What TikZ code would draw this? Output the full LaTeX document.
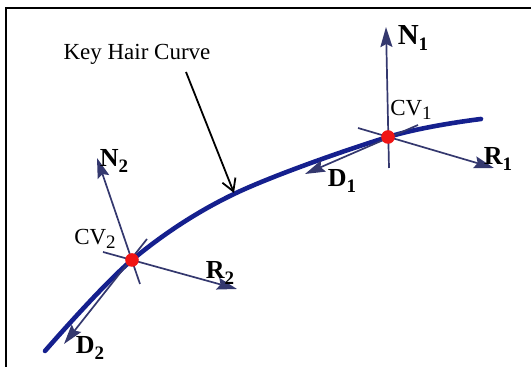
\documentclass[tikz,border=0pt]{standalone}
\usepackage{fontspec}
\setmainfont{Liberation Serif}
\usetikzlibrary{arrows.meta, positioning}
\definecolor{hair}{HTML}{15208E}
\definecolor{axisc}{HTML}{34386E}
\definecolor{cvred}{HTML}{F01414}
\newcommand{\lowidx}[1]{\raisebox{-0.45ex}{\fontsize{9.5}{10}\selectfont #1}}
\tikzset{
  frame/.style={draw=black, line width=1pt},
  hairline/.style={draw=hair, line width=2.3pt, line cap=round},
  vec/.style={draw=axisc, line width=0.85pt,
              -{Stealth[length=10pt, width=6pt, inset=1.5pt]}},
  cvdot/.style={circle, fill=cvred, inner sep=0pt, minimum size=6.8pt},
  vlbl/.style={font=\fontsize{13}{15}\selectfont\bfseries, inner sep=1pt},
  cvlbl/.style={font=\fontsize{11.5}{13}\selectfont, inner sep=1pt},
  pointer/.style={draw=black, line width=0.9pt,
                  -{Straight Barb[length=6pt, width=7pt]}},
}
\begin{document}
\begin{tikzpicture}[x=0.5pt, y=-0.5pt]
\useasboundingbox (0,0) rectangle (531,367);

% frame
\draw[frame] (6,367) |- (531,8);

% the hair curve
\coordinate (cv1) at (388,137);
\coordinate (cv2) at (132,260);
\coordinate (hstart) at (45,351);
\coordinate (hmid) at (234,194);
\coordinate (hend) at (481,119);
\draw[hairline] plot[smooth, tension=0.55] coordinates
  {(hstart) (cv2) (hmid) (cv1) (hend)};

% frame at CV1
\coordinate (n1a) at (389,168);
\coordinate (n1b) at (386,27);
\coordinate (r1a) at (358,128);
\coordinate (r1b) at (494,168);
\coordinate (d1a) at (418,125);
\coordinate (d1b) at (305,174);
\draw[vec] (n1a) -- (n1b);
\draw[vec] (r1a) -- (r1b);
\draw[vec] (d1a) -- (d1b);

% frame at CV2
\coordinate (n2a) at (140,284);
\coordinate (n2b) at (97,158);
\coordinate (r2a) at (103,252);
\coordinate (r2b) at (237,289);
\coordinate (d2a) at (147,239);
\coordinate (d2b) at (64,344);
\draw[vec] (n2a) -- (n2b);
\draw[vec] (r2a) -- (r2b);
\draw[vec] (d2a) -- (d2b);

\node[cvdot] (p1) at (cv1) {};
\node[cvdot] (p2) at (cv2) {};

% labels
\node[vlbl, font=\fontsize{14.5}{16}\selectfont\bfseries] (ln1) at (413,38) {N\lowidx{1}};
\node[vlbl] (lr1) at (498,159) {R\lowidx{1}};
\node[vlbl] (ld1) at (342,181) {D\lowidx{1}};
\node[cvlbl] (lc1) at (411,110) {CV\lowidx{1}};
\node[vlbl] (ln2) at (114,161) {N\lowidx{2}};
\node[vlbl] (lr2) at (220,273) {R\lowidx{2}};
\node[vlbl] (ld2) at (90,348) {D\lowidx{2}};
\node[cvlbl] (lc2) at (95,239) {CV\lowidx{2}};

\node[cvlbl] (key) at (137,54) {Key Hair Curve};
\coordinate (keytail) at (186,72);
\coordinate (keytip) at (234,193);
\draw[pointer] (keytail) -- (keytip);
\end{tikzpicture}
\end{document}
